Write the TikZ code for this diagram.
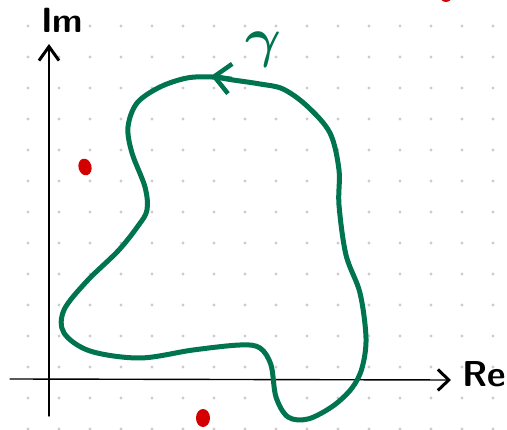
\documentclass[tikz,border=0pt]{standalone}
\usepackage{amsmath,amssymb}
\usepackage{xcolor}
\usepackage{tikz}
\usetikzlibrary{arrows.meta,calc}
\definecolor{contour}{HTML}{00734F}
\definecolor{pole}{HTML}{D40000}
\definecolor{griddot}{HTML}{CCCCCC}

\begin{document}
\begin{tikzpicture}[x=1pt,y=-1pt,font=\sffamily,
  axis/.style={line width=1.4pt,line cap=round},
  pole/.style={fill=pole}]
  \useasboundingbox (0,0) rectangle (507,430);
  \clip (0,0) rectangle (507,430);
  % dotted paper
  \foreach \i in {0,...,15}
    \foreach \j in {0,...,13}
      \fill[griddot] (28+31*\i,26+31*\j) circle (1.6pt);
  % axes
  \coordinate (xs) at (10,379);
  \coordinate (xe) at (451,380);
  \coordinate (ys) at (49,416);
  \coordinate (ye) at (49,44);
  \draw[axis,-{Straight Barb[length=11pt,width=21pt,line width=3pt]}] (xs) -- (xe);
  \draw[axis,-{Straight Barb[length=14pt,width=20pt,line width=3pt]}] (ys) -- (ye);
  \node[font=\sffamily\bfseries\fontsize{35}{35}\selectfont] (im) at (62,20) {Im};
  \node[font=\sffamily\bfseries\fontsize{36}{36}\selectfont] (re) at (484,374) {Re};
  % poles
  \fill[pole,rotate around={15:(85,167)}] (85,167) ellipse (6.5pt and 8.5pt);
  \fill[pole] (203,418) ellipse (7pt and 9pt);
  \fill[pole] (446,-6) ellipse (7pt and 8pt);
  % the contour
  \draw[contour,line width=5pt,line cap=round] plot[smooth cycle,tension=0.55] coordinates {
    (283,89) (260,84) (233,80) (212,77) (187,78) (160,87) (137,103)
    (128,127) (132,153) (145,187) (147,210) (138,226) (118,251) (87,281)
    (64,310) (64,333) (90,351) (140,358) (193,350) (240,345) (260,348)
    (271,365) (276,397) (288,417) (308,419) (333,406) (352,388) (362,368)
    (366,338) (360,293) (346,255) (339,205) (339,170) (330,133) (307,106)};
  \coordinate (tail) at (232,79);
  \coordinate (tip) at (211,76);
  \draw[contour,line width=4.5pt,-{Straight Barb[length=16pt,width=30pt,line width=4.5pt]}] (tail) -- (tip);
  \node[contour] (gamma) at (263,50) {\scalebox{5.5}{$\boldsymbol{\gamma}$}};
\end{tikzpicture}
\end{document}
